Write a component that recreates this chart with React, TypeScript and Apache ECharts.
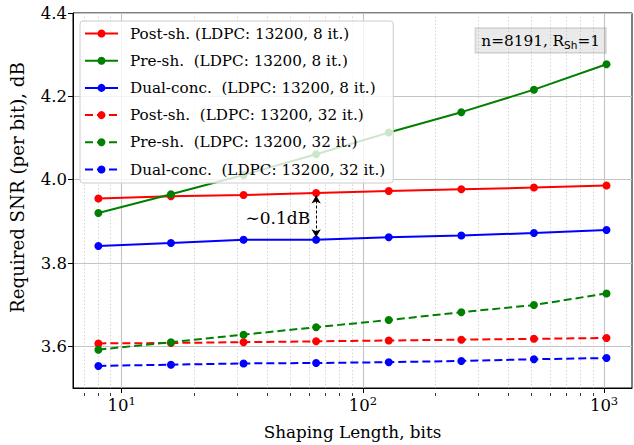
import React, { useEffect, useRef } from "react";
import * as echarts from "echarts";

// Shaping lengths (bits) evaluated for every scheme
const shapingLengths = [8, 16, 32, 64, 128, 256, 512, 1024];

// Required SNR per bit (dB), LDPC 13200, 8 iterations
const postSh8 = [3.955, 3.96, 3.963, 3.968, 3.973, 3.977, 3.981, 3.986];
const preSh8 = [3.92, 3.965, 4.011, 4.061, 4.113, 4.162, 4.216, 4.277];
const dual8 = [3.841, 3.848, 3.856, 3.856, 3.862, 3.866, 3.872, 3.879];

// Required SNR per bit (dB), LDPC 13200, 32 iterations
const postSh32 = [3.607, 3.608, 3.61, 3.612, 3.614, 3.616, 3.618, 3.62];
const preSh32 = [3.592, 3.61, 3.628, 3.646, 3.663, 3.682, 3.699, 3.727];
const dual32 = [3.553, 3.556, 3.559, 3.56, 3.562, 3.565, 3.569, 3.572];

const seriesNames = [
  "Post-sh. (LDPC: 13200, 8 it.)",
  "Pre-sh.  (LDPC: 13200, 8 it.)",
  "Dual-conc.  (LDPC: 13200, 8 it.)",
  "Post-sh.  (LDPC: 13200, 32 it.)",
  "Pre-sh.  (LDPC: 13200, 32 it.)",
  "Dual-conc.  (LDPC: 13200, 32 it.)",
];

const xMajorTicks = [10, 100, 1000];
const xMinorTicks = [
  7, 8, 9, 20, 30, 40, 50, 60, 70, 80, 90, 200, 300, 400, 500, 600, 700, 800,
  900,
];
const yTicks = [3.6, 3.8, 4.0, 4.2, 4.4];

// Position of the gap annotation between post-shaping and dual-concatenation
const gapIndex = 3;
const gapLabel = "\u223C0.1dB";

const X_MIN = 6.28;
const X_MAX = 1306;
const Y_MIN = 3.5;
const Y_MAX = 4.4;

const SERIF = "DejaVu Serif";
const SANS = "DejaVu Sans";

const toPairs = (ys: number[]) => shapingLengths.map((x, i) => [x, ys[i]]);

export default function App() {
  const ref = useRef<HTMLDivElement>(null);

  useEffect(() => {
    document.body.style.margin = "0";
    if (!ref.current) return;
    const chart = echarts.init(ref.current, undefined, { renderer: "svg" });

    const GRID_LEFT = 71;
    const GRID_RIGHT = 2;
    const GRID_TOP = 13;
    const GRID_BOTTOM = 52;
    const gridHeight = 445 - GRID_TOP - GRID_BOTTOM;

    const palette = ["#ff0000", "#008000", "#0000ff"];
    const values = [postSh8, preSh8, dual8, postSh32, preSh32, dual32];

    const series: any[] = values.map((ys, i) => ({
      name: seriesNames[i],
      type: "line",
      xAxisIndex: 0,
      yAxisIndex: 0,
      data: toPairs(ys),
      symbol: "circle",
      symbolSize: 8,
      showSymbol: true,
      color: palette[i % 3],
      itemStyle: { color: palette[i % 3] },
      lineStyle: {
        color: palette[i % 3],
        width: 2,
        type: i < 3 ? "solid" : [8, 4],
      },
      z: 3,
    }));

    // Double-headed dashed arrow and its label
    series.push({
      name: "gap",
      type: "line",
      data: [],
      xAxisIndex: 0,
      yAxisIndex: 0,
      silent: true,
      z: 5,
      markLine: {
        silent: true,
        symbol: ["arrow", "arrow"],
        symbolSize: [7, 8],
        lineStyle: { color: "#000", type: [3, 2], width: 1 },
        label: { show: false },
        data: [
          [
            { coord: [shapingLengths[gapIndex], postSh8[gapIndex] - 0.006] },
            { coord: [shapingLengths[gapIndex], dual8[gapIndex] + 0.006] },
          ],
        ],
      },
      markPoint: {
        silent: true,
        symbolSize: 0,
        data: [
          {
            coord: [
              shapingLengths[gapIndex],
              (postSh8[gapIndex] + dual8[gapIndex]) / 2 - 0.004,
            ],
            label: {
              show: true,
              formatter: gapLabel,
              position: "left",
              distance: 6,
              color: "#000",
              fontFamily: SERIF,
              fontSize: 17,
            },
          },
        ],
      },
    });

    chart.setOption({
      animation: false,
      backgroundColor: "#fff",
      grid: {
        left: GRID_LEFT,
        right: GRID_RIGHT,
        top: GRID_TOP,
        bottom: GRID_BOTTOM,
        show: true,
        borderColor: "#000",
        borderWidth: 1,
        backgroundColor: "transparent",
      },
      xAxis: [
        {
          type: "log",
          logBase: 10,
          min: X_MIN,
          max: X_MAX,
          position: "bottom",
          name: "Shaping Length, bits",
          nameLocation: "middle",
          nameGap: 35,
          nameTextStyle: { fontFamily: SERIF, fontSize: 16.8, color: "#000" },
          axisLine: { show: true, lineStyle: { color: "#000", width: 1 } },
          axisTick: {
            show: true,
            length: 5,
            customValues: xMajorTicks,
            lineStyle: { color: "#000" },
          },
          axisLabel: {
            customValues: xMajorTicks,
            margin: 7,
            color: "#000",
            fontFamily: SERIF,
            formatter: (v: number) => `{b|10}{s|${Math.round(Math.log10(v))}}`,
            rich: {
              b: { fontFamily: SERIF, fontSize: 16.5, color: "#000", lineHeight: 20 },
              s: {
                fontFamily: SERIF,
                fontSize: 11.5,
                color: "#000",
                verticalAlign: "top",
                lineHeight: 20,
                padding: [0, 0, 8, 0],
              },
            },
          },
          splitLine: {
            show: true,
            lineStyle: { color: "#c4c4c4", width: 1.1 },
          },
        },
        {
          type: "log",
          logBase: 10,
          min: X_MIN,
          max: X_MAX,
          position: "top",
          offset: -gridHeight,
          axisLine: { show: false },
          axisTick: {
            show: true,
            inside: true,
            length: 3,
            customValues: xMinorTicks,
            lineStyle: { color: "#000", width: 0.8 },
          },
          axisLabel: { show: false },
          splitLine: {
            show: true,
            lineStyle: { color: "#d6d6d6", width: 1, type: [1.5, 2] },
          },
        },
      ],
      yAxis: {
        type: "value",
        min: Y_MIN,
        max: Y_MAX,
        name: "Required SNR (per bit), dB",
        nameLocation: "middle",
        nameGap: 47,
        nameTextStyle: {
          fontFamily: SERIF,
          fontSize: 18.2,
          color: "#000",
          padding: [0, 0, 0, 26],
        },
        axisLine: { show: true, lineStyle: { color: "#000", width: 1 } },
        axisTick: {
          show: true,
          length: 5,
          customValues: yTicks,
          lineStyle: { color: "#000" },
        },
        axisLabel: {
          customValues: yTicks,
          margin: 6,
          color: "#000",
          fontFamily: SERIF,
          fontSize: 16.5,
          formatter: (v: number) => v.toFixed(1),
        },
        splitLine: {
          show: true,
          lineStyle: { color: "#c4c4c4", width: 1.1 },
        },
      },
      legend: {
        show: true,
        orient: "vertical",
        left: 80,
        top: 21,
        padding: [5, 8, 6, 4],
        itemWidth: 33,
        itemHeight: 10,
        itemGap: 12.2,
        backgroundColor: "rgba(255,255,255,0.8)",
        borderColor: "#cccccc",
        borderWidth: 1,
        borderRadius: 3,
        data: seriesNames,
        textStyle: {
          fontFamily: SERIF,
          fontSize: 15.2,
          color: "#000",
          padding: [0, 0, 0, 7],
        },
      },
      graphic: [
        {
          type: "text",
          right: 27,
          top: 27,
          z: 10,
          style: {
            text: "{a|n=8191, R}{b|Sh}{a|=1}",
            backgroundColor: "rgba(128,128,128,0.17)",
            borderColor: "rgba(128,128,128,0.22)",
            borderWidth: 1,
            padding: [4, 6, 3, 6],
            rich: {
              a: { fontFamily: SERIF, fontSize: 15.3, fill: "#000", lineHeight: 18 },
              b: {
                fontFamily: SANS,
                fontSize: 10.5,
                fill: "#000",
                lineHeight: 18,
                verticalAlign: "bottom",
                padding: [6, 0, 0, 0],
              },
            },
          },
        },
      ],
      series,
    });

    return () => chart.dispose();
  }, []);

  return <div ref={ref} style={{ width: 634, height: 445 }} />;
}
